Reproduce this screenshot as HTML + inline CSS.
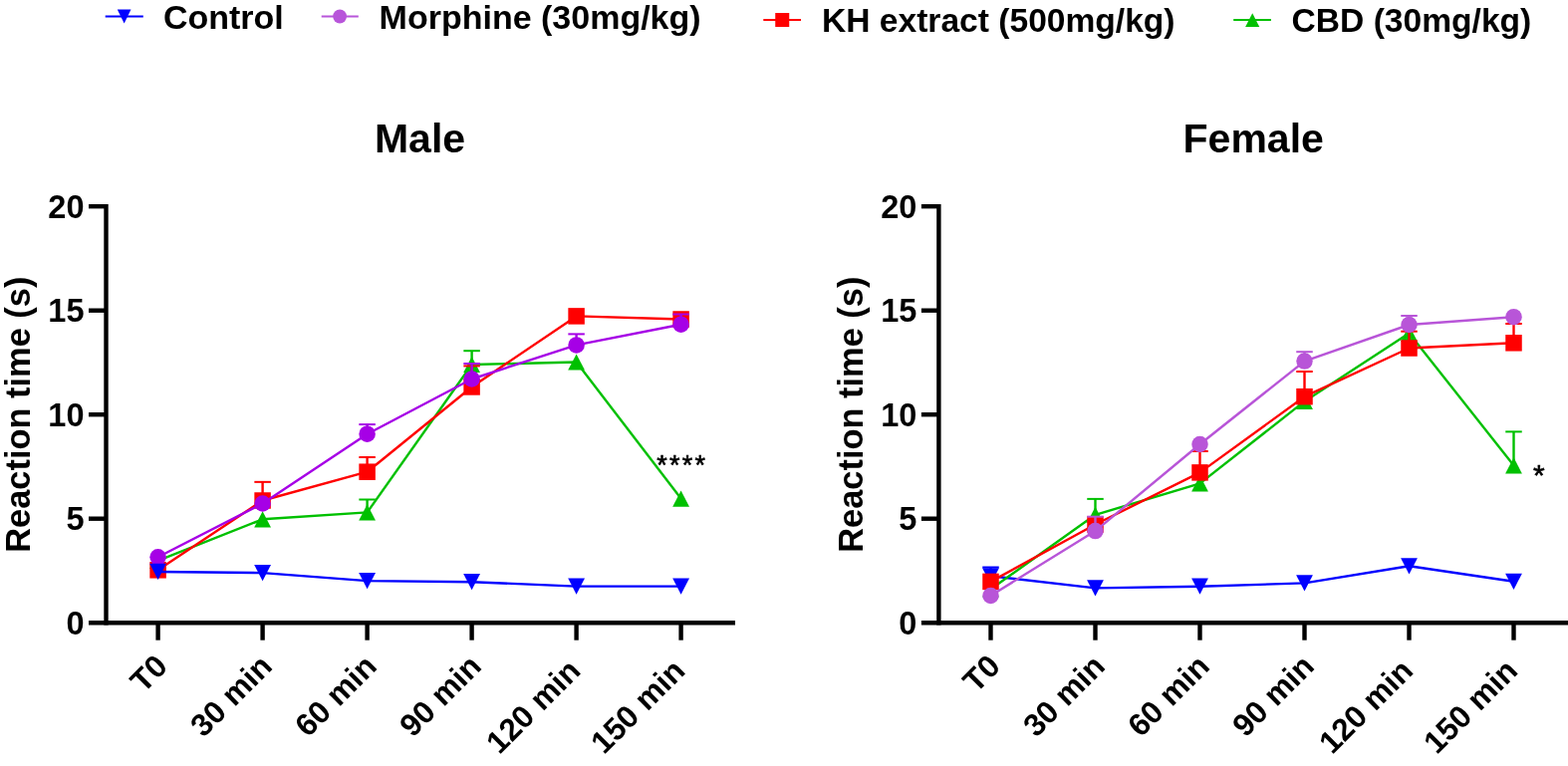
<!DOCTYPE html>
<html><head><meta charset="utf-8"><title>Reaction time</title>
<style>html,body{margin:0;padding:0;background:#fff;}svg{display:block;}</style>
</head><body>
<svg width="1574" height="769" viewBox="0 0 1574 769">
<rect width="1574" height="769" fill="#fff"/>
<g font-family="'Liberation Sans', Arial, Helvetica, sans-serif" font-weight="bold" font-size="34" fill="#000">
<line x1="105.7" y1="16.5" x2="143.8" y2="16.5" stroke="#0000FF" stroke-width="2"/>
<polygon points="117.80,9.50 131.50,9.50 124.65,23.50" fill="#0000FF"/>
<text x="163.9" y="29">Control</text>
<line x1="322.7" y1="16.4" x2="359.8" y2="16.4" stroke="#B855DA" stroke-width="2"/>
<circle cx="341.10" cy="16.50" r="6.90" fill="#B855DA"/>
<text x="380.6" y="29">Morphine (30mg/kg)</text>
<line x1="766.3" y1="19.9" x2="804" y2="19.9" stroke="#FF0000" stroke-width="2"/>
<rect x="778.25" y="13.00" width="14.00" height="14.00" fill="#FF0000"/>
<text x="825" y="32.2" font-size="33.6">KH extract (500mg/kg)</text>
<line x1="1238.2" y1="19.9" x2="1275.9" y2="19.9" stroke="#00C000" stroke-width="2"/>
<polygon points="1257.20,13.30 1264.25,26.90 1250.15,26.90" fill="#00C000"/>
<text x="1296.6" y="32" font-size="33.6">CBD (30mg/kg)</text>
</g>
<g stroke="#000" stroke-width="4.4" fill="none">
<line x1="106.5" y1="205.0" x2="106.5" y2="627.4000000000001"/>
<line x1="89.0" y1="625.2" x2="738" y2="625.2"/>
<line x1="89.0" y1="520.70" x2="106.5" y2="520.70"/>
<line x1="89.0" y1="416.20" x2="106.5" y2="416.20"/>
<line x1="89.0" y1="311.70" x2="106.5" y2="311.70"/>
<line x1="89.0" y1="207.20" x2="106.5" y2="207.20"/>
<line x1="158.60" y1="625.2" x2="158.60" y2="642.7"/>
<line x1="263.60" y1="625.2" x2="263.60" y2="642.7"/>
<line x1="368.60" y1="625.2" x2="368.60" y2="642.7"/>
<line x1="473.60" y1="625.2" x2="473.60" y2="642.7"/>
<line x1="578.60" y1="625.2" x2="578.60" y2="642.7"/>
<line x1="683.60" y1="625.2" x2="683.60" y2="642.7"/>
</g>
<g font-family="'Liberation Sans', Arial, Helvetica, sans-serif" font-weight="bold" font-size="32.5" fill="#000" text-anchor="end">
<text x="84.50" y="636.70">0</text>
<text x="84.50" y="532.20">5</text>
<text x="84.50" y="427.70">10</text>
<text x="84.50" y="323.20">15</text>
<text x="84.50" y="218.70">20</text>
</g>
<g font-family="'Liberation Sans', Arial, Helvetica, sans-serif" font-weight="bold" font-size="31.5" fill="#000" text-anchor="end">
<text transform="translate(169.90,670.70) rotate(-45)">T0</text>
<text transform="translate(274.90,670.70) rotate(-45)">30 min</text>
<text transform="translate(379.90,670.70) rotate(-45)">60 min</text>
<text transform="translate(484.90,670.70) rotate(-45)">90 min</text>
<text transform="translate(584.25,675.20) rotate(-45)">120 min</text>
<text transform="translate(689.25,675.20) rotate(-45)">150 min</text>
</g>
<text transform="translate(29.90,416.2) rotate(-90)" font-family="'Liberation Sans', Arial, Helvetica, sans-serif" font-weight="bold" font-size="34.4" text-anchor="middle">Reaction time (s)</text>
<text x="421.55" y="153" font-family="'Liberation Sans', Arial, Helvetica, sans-serif" font-weight="bold" font-size="41" text-anchor="middle">Male</text>
<polyline points="158.60,562.80 263.60,521.30 368.60,514.40 473.60,366.00 578.60,363.50 683.60,500.60" fill="none" stroke="#00C000" stroke-width="2.4" stroke-linejoin="round"/>
<line x1="368.60" y1="514.40" x2="368.60" y2="501.50" stroke="#00C000" stroke-width="2.4"/>
<line x1="360.35" y1="501.50" x2="376.85" y2="501.50" stroke="#00C000" stroke-width="2.0"/>
<line x1="473.60" y1="366.00" x2="473.60" y2="352.20" stroke="#00C000" stroke-width="2.4"/>
<line x1="465.35" y1="352.20" x2="481.85" y2="352.20" stroke="#00C000" stroke-width="2.0"/>
<polygon points="158.60,554.70 167.00,570.90 150.20,570.90" fill="#00C000"/>
<polygon points="263.60,513.20 272.00,529.40 255.20,529.40" fill="#00C000"/>
<polygon points="368.60,506.30 377.00,522.50 360.20,522.50" fill="#00C000"/>
<polygon points="473.60,357.90 482.00,374.10 465.20,374.10" fill="#00C000"/>
<polygon points="578.60,355.40 587.00,371.60 570.20,371.60" fill="#00C000"/>
<polygon points="683.60,492.50 692.00,508.70 675.20,508.70" fill="#00C000"/>
<polyline points="158.60,572.30 263.60,502.50 368.60,473.70 473.60,388.45 578.60,317.40 683.60,320.50" fill="none" stroke="#FF0000" stroke-width="2.4" stroke-linejoin="round"/>
<line x1="263.60" y1="502.50" x2="263.60" y2="483.85" stroke="#FF0000" stroke-width="2.4"/>
<line x1="255.35" y1="483.85" x2="271.85" y2="483.85" stroke="#FF0000" stroke-width="2.0"/>
<line x1="368.60" y1="473.70" x2="368.60" y2="459.00" stroke="#FF0000" stroke-width="2.4"/>
<line x1="360.35" y1="459.00" x2="376.85" y2="459.00" stroke="#FF0000" stroke-width="2.0"/>
<line x1="473.60" y1="388.45" x2="473.60" y2="367.40" stroke="#FF0000" stroke-width="2.4"/>
<line x1="465.35" y1="367.40" x2="481.85" y2="367.40" stroke="#FF0000" stroke-width="2.0"/>
<rect x="150.35" y="564.05" width="16.50" height="16.50" fill="#FF0000"/>
<rect x="255.35" y="494.25" width="16.50" height="16.50" fill="#FF0000"/>
<rect x="360.35" y="465.45" width="16.50" height="16.50" fill="#FF0000"/>
<rect x="465.35" y="380.20" width="16.50" height="16.50" fill="#FF0000"/>
<rect x="570.35" y="309.15" width="16.50" height="16.50" fill="#FF0000"/>
<rect x="675.35" y="312.25" width="16.50" height="16.50" fill="#FF0000"/>
<polyline points="158.60,559.30 263.60,505.50 368.60,435.70 473.60,380.50 578.60,346.40 683.60,325.70" fill="none" stroke="#A600E6" stroke-width="2.4" stroke-linejoin="round"/>
<line x1="368.60" y1="435.70" x2="368.60" y2="426.10" stroke="#A600E6" stroke-width="2.4"/>
<line x1="360.35" y1="426.10" x2="376.85" y2="426.10" stroke="#A600E6" stroke-width="2.0"/>
<line x1="473.60" y1="380.50" x2="473.60" y2="365.00" stroke="#A600E6" stroke-width="2.4"/>
<line x1="465.35" y1="365.00" x2="481.85" y2="365.00" stroke="#A600E6" stroke-width="2.0"/>
<line x1="578.60" y1="346.40" x2="578.60" y2="335.40" stroke="#A600E6" stroke-width="2.4"/>
<line x1="570.35" y1="335.40" x2="586.85" y2="335.40" stroke="#A600E6" stroke-width="2.0"/>
<line x1="683.60" y1="325.70" x2="683.60" y2="315.50" stroke="#A600E6" stroke-width="2.4"/>
<line x1="675.35" y1="315.50" x2="691.85" y2="315.50" stroke="#A600E6" stroke-width="2.0"/>
<circle cx="158.60" cy="559.30" r="8.25" fill="#A600E6"/>
<circle cx="263.60" cy="505.50" r="8.25" fill="#A600E6"/>
<circle cx="368.60" cy="435.70" r="8.25" fill="#A600E6"/>
<circle cx="473.60" cy="380.50" r="8.25" fill="#A600E6"/>
<circle cx="578.60" cy="346.40" r="8.25" fill="#A600E6"/>
<circle cx="683.60" cy="325.70" r="8.25" fill="#A600E6"/>
<polyline points="158.60,573.95 263.60,575.10 368.60,583.10 473.60,584.20 578.60,588.60 683.60,588.60" fill="none" stroke="#0000FF" stroke-width="2.4" stroke-linejoin="round"/>
<polygon points="150.20,565.85 167.00,565.85 158.60,582.05" fill="#0000FF"/>
<polygon points="255.20,567.00 272.00,567.00 263.60,583.20" fill="#0000FF"/>
<polygon points="360.20,575.00 377.00,575.00 368.60,591.20" fill="#0000FF"/>
<polygon points="465.20,576.10 482.00,576.10 473.60,592.30" fill="#0000FF"/>
<polygon points="570.20,580.50 587.00,580.50 578.60,596.70" fill="#0000FF"/>
<polygon points="675.20,580.50 692.00,580.50 683.60,596.70" fill="#0000FF"/>
<text x="659.2" y="475.8" font-family="'Liberation Sans', Arial, Helvetica, sans-serif" font-size="27" letter-spacing="2.3" stroke="#000" stroke-width="0.6">****</text>
<g stroke="#000" stroke-width="4.4" fill="none">
<line x1="942.4" y1="205.0" x2="942.4" y2="627.4000000000001"/>
<line x1="924.9" y1="625.2" x2="1574" y2="625.2"/>
<line x1="924.9" y1="520.70" x2="942.4" y2="520.70"/>
<line x1="924.9" y1="416.20" x2="942.4" y2="416.20"/>
<line x1="924.9" y1="311.70" x2="942.4" y2="311.70"/>
<line x1="924.9" y1="207.20" x2="942.4" y2="207.20"/>
<line x1="994.50" y1="625.2" x2="994.50" y2="642.7"/>
<line x1="1099.50" y1="625.2" x2="1099.50" y2="642.7"/>
<line x1="1204.50" y1="625.2" x2="1204.50" y2="642.7"/>
<line x1="1309.50" y1="625.2" x2="1309.50" y2="642.7"/>
<line x1="1414.50" y1="625.2" x2="1414.50" y2="642.7"/>
<line x1="1519.50" y1="625.2" x2="1519.50" y2="642.7"/>
</g>
<g font-family="'Liberation Sans', Arial, Helvetica, sans-serif" font-weight="bold" font-size="32.5" fill="#000" text-anchor="end">
<text x="920.40" y="636.70">0</text>
<text x="920.40" y="532.20">5</text>
<text x="920.40" y="427.70">10</text>
<text x="920.40" y="323.20">15</text>
<text x="920.40" y="218.70">20</text>
</g>
<g font-family="'Liberation Sans', Arial, Helvetica, sans-serif" font-weight="bold" font-size="31.5" fill="#000" text-anchor="end">
<text transform="translate(1005.80,670.70) rotate(-45)">T0</text>
<text transform="translate(1110.80,670.70) rotate(-45)">30 min</text>
<text transform="translate(1215.80,670.70) rotate(-45)">60 min</text>
<text transform="translate(1320.80,670.70) rotate(-45)">90 min</text>
<text transform="translate(1420.15,675.20) rotate(-45)">120 min</text>
<text transform="translate(1525.15,675.20) rotate(-45)">150 min</text>
</g>
<text transform="translate(865.80,416.2) rotate(-90)" font-family="'Liberation Sans', Arial, Helvetica, sans-serif" font-weight="bold" font-size="34.4" text-anchor="middle">Reaction time (s)</text>
<text x="1258.20" y="153" font-family="'Liberation Sans', Arial, Helvetica, sans-serif" font-weight="bold" font-size="41" text-anchor="middle">Female</text>
<polyline points="994.50,578.30 1099.50,590.35 1204.50,588.70 1309.50,585.40 1414.50,568.30 1519.50,583.80" fill="none" stroke="#0000FF" stroke-width="2.4" stroke-linejoin="round"/>
<line x1="994.50" y1="578.30" x2="994.50" y2="569.50" stroke="#0000FF" stroke-width="2.4"/>
<line x1="986.25" y1="569.50" x2="1002.75" y2="569.50" stroke="#0000FF" stroke-width="2.0"/>
<polygon points="986.10,570.20 1002.90,570.20 994.50,586.40" fill="#0000FF"/>
<polygon points="1091.10,582.25 1107.90,582.25 1099.50,598.45" fill="#0000FF"/>
<polygon points="1196.10,580.60 1212.90,580.60 1204.50,596.80" fill="#0000FF"/>
<polygon points="1301.10,577.30 1317.90,577.30 1309.50,593.50" fill="#0000FF"/>
<polygon points="1406.10,560.20 1422.90,560.20 1414.50,576.40" fill="#0000FF"/>
<polygon points="1511.10,575.70 1527.90,575.70 1519.50,591.90" fill="#0000FF"/>
<polyline points="994.50,591.50 1099.50,516.85 1204.50,485.40 1309.50,402.90 1414.50,334.55 1519.50,467.30" fill="none" stroke="#00C000" stroke-width="2.4" stroke-linejoin="round"/>
<line x1="1099.50" y1="516.85" x2="1099.50" y2="500.90" stroke="#00C000" stroke-width="2.4"/>
<line x1="1091.25" y1="500.90" x2="1107.75" y2="500.90" stroke="#00C000" stroke-width="2.0"/>
<line x1="1519.50" y1="467.30" x2="1519.50" y2="433.40" stroke="#00C000" stroke-width="2.4"/>
<line x1="1511.25" y1="433.40" x2="1527.75" y2="433.40" stroke="#00C000" stroke-width="2.0"/>
<polygon points="994.50,583.40 1002.90,599.60 986.10,599.60" fill="#00C000"/>
<polygon points="1099.50,508.75 1107.90,524.95 1091.10,524.95" fill="#00C000"/>
<polygon points="1204.50,477.30 1212.90,493.50 1196.10,493.50" fill="#00C000"/>
<polygon points="1309.50,394.80 1317.90,411.00 1301.10,411.00" fill="#00C000"/>
<polygon points="1414.50,326.45 1422.90,342.65 1406.10,342.65" fill="#00C000"/>
<polygon points="1519.50,459.20 1527.90,475.40 1511.10,475.40" fill="#00C000"/>
<polyline points="994.50,583.90 1099.50,526.50 1204.50,474.40 1309.50,398.20 1414.50,349.50 1519.50,344.30" fill="none" stroke="#FF0000" stroke-width="2.4" stroke-linejoin="round"/>
<line x1="1204.50" y1="474.40" x2="1204.50" y2="453.00" stroke="#FF0000" stroke-width="2.4"/>
<line x1="1196.25" y1="453.00" x2="1212.75" y2="453.00" stroke="#FF0000" stroke-width="2.0"/>
<line x1="1309.50" y1="398.20" x2="1309.50" y2="373.00" stroke="#FF0000" stroke-width="2.4"/>
<line x1="1301.25" y1="373.00" x2="1317.75" y2="373.00" stroke="#FF0000" stroke-width="2.0"/>
<line x1="1414.50" y1="349.50" x2="1414.50" y2="332.70" stroke="#FF0000" stroke-width="2.4"/>
<line x1="1406.25" y1="332.70" x2="1422.75" y2="332.70" stroke="#FF0000" stroke-width="2.0"/>
<line x1="1519.50" y1="344.30" x2="1519.50" y2="325.00" stroke="#FF0000" stroke-width="2.4"/>
<line x1="1511.25" y1="325.00" x2="1527.75" y2="325.00" stroke="#FF0000" stroke-width="2.0"/>
<rect x="986.25" y="575.65" width="16.50" height="16.50" fill="#FF0000"/>
<rect x="1091.25" y="518.25" width="16.50" height="16.50" fill="#FF0000"/>
<rect x="1196.25" y="466.15" width="16.50" height="16.50" fill="#FF0000"/>
<rect x="1301.25" y="389.95" width="16.50" height="16.50" fill="#FF0000"/>
<rect x="1406.25" y="341.25" width="16.50" height="16.50" fill="#FF0000"/>
<rect x="1511.25" y="336.05" width="16.50" height="16.50" fill="#FF0000"/>
<polyline points="994.50,598.00 1099.50,533.10 1204.50,446.00 1309.50,362.60 1414.50,326.00 1519.50,318.20" fill="none" stroke="#B855D8" stroke-width="2.4" stroke-linejoin="round"/>
<line x1="1099.50" y1="533.10" x2="1099.50" y2="518.70" stroke="#B855D8" stroke-width="2.4"/>
<line x1="1091.25" y1="518.70" x2="1107.75" y2="518.70" stroke="#B855D8" stroke-width="2.0"/>
<line x1="1309.50" y1="362.60" x2="1309.50" y2="353.20" stroke="#B855D8" stroke-width="2.4"/>
<line x1="1301.25" y1="353.20" x2="1317.75" y2="353.20" stroke="#B855D8" stroke-width="2.0"/>
<line x1="1414.50" y1="326.00" x2="1414.50" y2="317.00" stroke="#B855D8" stroke-width="2.4"/>
<line x1="1406.25" y1="317.00" x2="1422.75" y2="317.00" stroke="#B855D8" stroke-width="2.0"/>
<circle cx="994.50" cy="598.00" r="8.25" fill="#B855D8"/>
<circle cx="1099.50" cy="533.10" r="8.25" fill="#B855D8"/>
<circle cx="1204.50" cy="446.00" r="8.25" fill="#B855D8"/>
<circle cx="1309.50" cy="362.60" r="8.25" fill="#B855D8"/>
<circle cx="1414.50" cy="326.00" r="8.25" fill="#B855D8"/>
<circle cx="1519.50" cy="318.20" r="8.25" fill="#B855D8"/>
<text x="1539.0" y="487.4" font-family="'Liberation Sans', Arial, Helvetica, sans-serif" font-size="30" stroke="#000" stroke-width="0.6">*</text>
</svg>
</body></html>
